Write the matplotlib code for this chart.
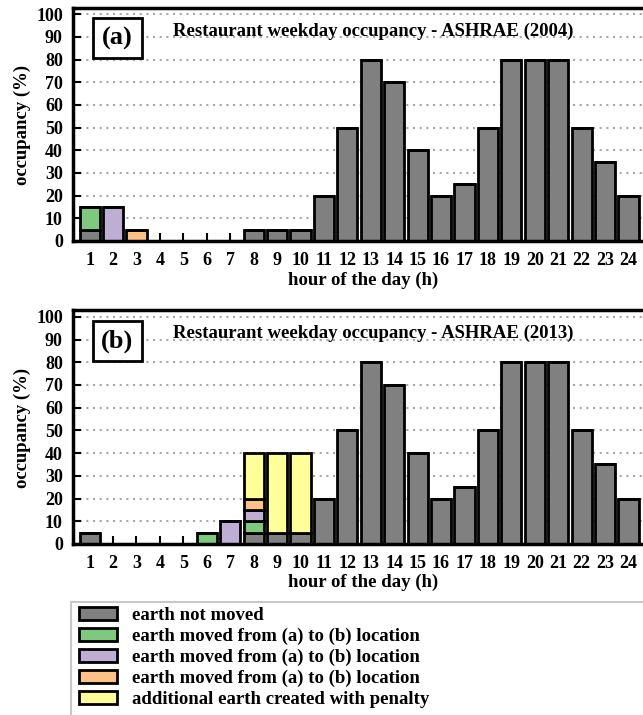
import matplotlib
matplotlib.use("Agg")
import matplotlib.pyplot as plt
from matplotlib.patches import Rectangle, Patch
import numpy as np

hours = list(range(1, 25))
gray_a = [5, 0, 0, 0, 0, 0, 0, 5, 5, 5, 20, 50, 80, 70, 40, 20, 25, 50, 80, 80, 80, 50, 35, 20]
green_a = [10, 0, 0, 0, 0, 0, 0, 0, 0, 0, 0, 0, 0, 0, 0, 0, 0, 0, 0, 0, 0, 0, 0, 0]
purple_a = [0, 15, 0, 0, 0, 0, 0, 0, 0, 0, 0, 0, 0, 0, 0, 0, 0, 0, 0, 0, 0, 0, 0, 0]
orange_a = [0, 0, 5, 0, 0, 0, 0, 0, 0, 0, 0, 0, 0, 0, 0, 0, 0, 0, 0, 0, 0, 0, 0, 0]
yellow_a = [0] * 24

gray_b = [5, 0, 0, 0, 0, 0, 0, 5, 5, 5, 20, 50, 80, 70, 40, 20, 25, 50, 80, 80, 80, 50, 35, 20]
green_b = [0, 0, 0, 0, 0, 5, 0, 5, 0, 0, 0, 0, 0, 0, 0, 0, 0, 0, 0, 0, 0, 0, 0, 0]
purple_b = [0, 0, 0, 0, 0, 0, 10, 5, 0, 0, 0, 0, 0, 0, 0, 0, 0, 0, 0, 0, 0, 0, 0, 0]
orange_b = [0, 0, 0, 0, 0, 0, 0, 5, 0, 0, 0, 0, 0, 0, 0, 0, 0, 0, 0, 0, 0, 0, 0, 0]
yellow_b = [0, 0, 0, 0, 0, 0, 0, 20, 35, 35, 0, 0, 0, 0, 0, 0, 0, 0, 0, 0, 0, 0, 0, 0]

titles = ["Restaurant weekday occupancy - ASHRAE (2004)",
          "Restaurant weekday occupancy - ASHRAE (2013)"]
panel_labels = ["(a)", "(b)"]
legend_labels = ["earth not moved",
                 "earth moved from (a) to (b) location",
                 "earth moved from (a) to (b) location",
                 "earth moved from (a) to (b) location",
                 "additional earth created with penalty"]
colors = ["#808080", "#7fc97f", "#beaed4", "#fdc086", "#ffff99"]

plt.rcParams['font.family'] = ['Liberation Serif', 'DejaVu Serif']
plt.rcParams['font.weight'] = 'bold'

W, H = 643, 715
fig = plt.figure(figsize=(W / 100, H / 100), dpi=100)

def fx(x):
    return x / W

def fy(y):
    return 1 - y / H

L, R = 72.5, 646
tops = [7.5, 310]
bots = [241, 544]
datasets = [(gray_a, green_a, purple_a, orange_a, yellow_a),
            (gray_b, green_b, purple_b, orange_b, yellow_b)]

for k in range(2):
    top, bot = tops[k], bots[k]
    off = top - tops[0]
    ax = fig.add_axes([fx(L), fy(bot), (R - L) / W, (bot - top) / H])
    bottom = np.zeros(24)
    for series, c in zip(datasets[k], colors):
        vals = np.array(series, dtype=float)
        ax.bar(hours, vals, bottom=bottom, width=0.86, color=c,
               edgecolor='black', linewidth=2.0, zorder=2)
        bottom += vals
    ax.set_xlim(0.27, 24.75)
    ax.set_ylim(0, 103)
    ax.set_yticks(range(0, 101, 10))
    ax.set_xticks(hours)
    ax.yaxis.grid(True, linestyle=(0, (1, 2.2)), color='#a8a8a8', linewidth=1.5, zorder=0)
    ax.set_axisbelow(True)
    ax.tick_params(direction='in', length=6, width=1.5, labelsize=13)
    ax.tick_params(axis='x', pad=8)
    ax.tick_params(axis='y', pad=7)
    for lab in ax.get_xticklabels() + ax.get_yticklabels():
        lab.set_fontweight('bold')
    for s in ax.spines.values():
        s.set_linewidth(2.5)
        s.set_zorder(6)
    for t in ax.xaxis.get_major_ticks() + ax.yaxis.get_major_ticks():
        t.tick1line.set_zorder(5)
        t.tick2line.set_zorder(5)
    # axis labels
    fig.text(fx(363), fy(280 + off), "hour of the day (h)", ha='center', va='center',
             fontsize=13.5, fontweight='bold')
    fig.text(fx(22), fy(125 + off), "occupancy (%)", ha='center', va='center',
             rotation=90, fontsize=13.5, fontweight='bold')
    # title
    fig.text(fx(373), fy(31 + off), titles[k], ha='center', va='center',
             fontsize=13.5, fontweight='bold', zorder=8)
    # panel label box
    box = Rectangle((fx(93), fy(58 + off)), (142 - 93) / W, 40 / H,
                    transform=fig.transFigure, facecolor='white', edgecolor='black',
                    linewidth=2, zorder=7)
    fig.patches.append(box)
    fig.text(fx(117.5), fy(38.5 + off), panel_labels[k], ha='center', va='center',
             fontsize=19, fontweight='bold', zorder=8)

# legend frame
frame = Rectangle((fx(71), fy(740)), (700 - 71) / W, (740 - 602) / H,
                  transform=fig.transFigure, facecolor='white', edgecolor='#c8c8c8',
                  linewidth=1.5)
fig.patches.append(frame)
handles = [Patch(facecolor=c, edgecolor='black', linewidth=2) for c in colors]
fig.legend(handles, legend_labels, loc='upper left',
           bbox_to_anchor=(fx(79), fy(607)), frameon=False,
           prop={'size': 13.5, 'weight': 'bold'}, handlelength=2.05, handleheight=0.7,
           handletextpad=0.8, labelspacing=0.2, borderpad=0.0, borderaxespad=0)

fig.savefig("out.png", dpi=100)
